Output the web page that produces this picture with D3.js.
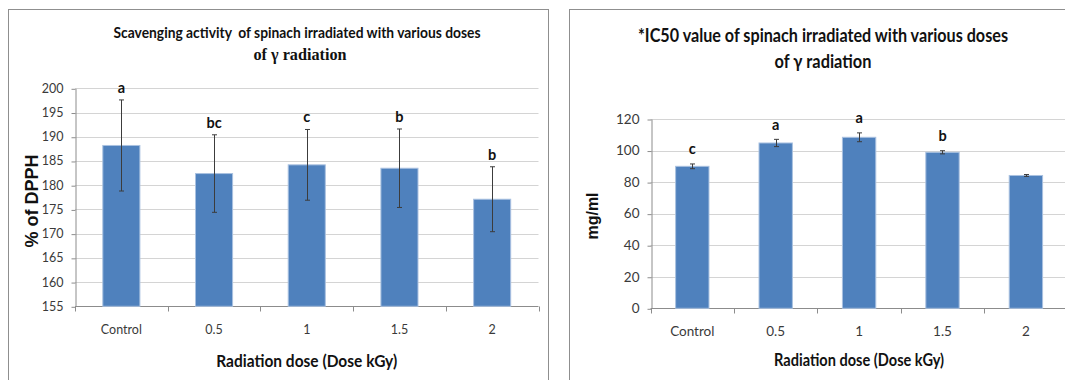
<!DOCTYPE html>
<html>
<head>
<meta charset="utf-8">
<script src="https://cdn.jsdelivr.net/npm/d3@7/dist/d3.min.js"></script>
<style>
  html, body { margin: 0; padding: 0; background: #ffffff; }
  svg { display: block; }
  text { white-space: pre; }
</style>
</head>
<body>
<svg id="chart" width="1065" height="380"></svg>
<script>
// ---------- data ----------
const categories = ["Control", "0.5", "1", "1.5", "2"];

const dpphValues  = [188.2, 182.4, 184.2, 183.5, 177.1];
const dpphErrors  = [9.4, 8.0, 7.3, 8.1, 6.7];
const dpphLetters = ["a", "bc", "c", "b", "b"];
const dpphTicks   = [155, 160, 165, 170, 175, 180, 185, 190, 195, 200];

const ic50Values  = [90.0, 104.8, 108.4, 98.9, 84.2];
const ic50Errors  = [1.5, 2.3, 2.8, 1.0, 0.6];
const ic50Letters = ["c", "a", "a", "b", ""];
const ic50Ticks   = [0, 20, 40, 60, 80, 100, 120];

const leftTitle   = ["Scavenging activity  of spinach irradiated with various doses", "of \u03b3 radiation"];
const rightTitle  = ["*IC50 value of spinach irradiated with various doses", "of \u03b3 radiation"];
const xTitle      = "Radiation dose (Dose kGy)";
const leftYTitle  = "% of DPPH";
const rightYTitle = "mg/ml";

// ---------- styles ----------
const BAR = "#4f81bd";
const BAR_EDGE = "#a9c1e0";
const GRID = "#d4d4d4";
const AXIS = "#8c8c8c";
const FONT = "Lato, 'Open Sans', sans-serif";

const svg = d3.select("#chart");

function drawChart(cfg) {
  const g = svg.append("g");

  // outer box
  g.append("rect")
    .attr("x", cfg.box[0] + 0.5).attr("y", cfg.box[1] + 0.5)
    .attr("width", cfg.box[2]).attr("height", cfg.box[3])
    .attr("fill", "#fff").attr("stroke", "#8f8f8f").attr("stroke-width", 1);

  const x = d3.scaleBand().domain(cfg.categories)
    .range(cfg.xRange).paddingInner(0.6).paddingOuter(0.3);
  const y = d3.scaleLinear().domain(cfg.yDomain).range(cfg.yRange);
  const step = x.step();

  // gridlines
  g.append("g").selectAll("line").data(cfg.ticks.slice(1)).join("line")
    .attr("x1", cfg.xRange[0]).attr("x2", cfg.xRange[1])
    .attr("y1", d => Math.round(y(d)) + 0.5).attr("y2", d => Math.round(y(d)) + 0.5)
    .attr("stroke", GRID).attr("stroke-width", 1);

  // y axis
  const yAxis = g.append("g")
    .attr("transform", `translate(${Math.round(cfg.xRange[0]) + 0.5},0)`)
    .call(d3.axisLeft(y).tickValues(cfg.ticks).tickSize(4).tickPadding(8).tickSizeOuter(0));
  yAxis.select(".domain").attr("stroke", AXIS);
  yAxis.selectAll(".tick line").attr("stroke", AXIS)
    .attr("transform", "translate(0,0.5)");
  yAxis.selectAll(".tick text")
    .attr("font-family", FONT).attr("font-size", cfg.tickFont).attr("fill", "#3a3a3a");

  // x axis baseline
  const yb = Math.round(y(cfg.yDomain[0])) + 0.5;
  g.append("line")
    .attr("x1", cfg.xRange[0]).attr("x2", cfg.xRange[1])
    .attr("y1", yb).attr("y2", yb).attr("stroke", AXIS);
  // x axis tick marks at category boundaries
  g.append("g").selectAll("line").data(d3.range(cfg.categories.length + 1)).join("line")
    .attr("x1", i => Math.round(cfg.xRange[0] + i * step) + 0.5)
    .attr("x2", i => Math.round(cfg.xRange[0] + i * step) + 0.5)
    .attr("y1", yb).attr("y2", yb + 5)
    .attr("stroke", AXIS);
  // x labels
  g.append("g").selectAll("text").data(cfg.categories).join("text")
    .attr("x", d => x(d) + x.bandwidth() / 2)
    .attr("y", cfg.xLabelY)
    .attr("text-anchor", "middle")
    .attr("font-family", FONT).attr("font-size", cfg.tickFont).attr("fill", "#3a3a3a")
    .text(d => d);

  // bars
  g.append("g").selectAll("rect").data(cfg.values).join("rect")
    .attr("x", (d, i) => x(cfg.categories[i]))
    .attr("width", x.bandwidth())
    .attr("y", d => y(d))
    .attr("height", d => y(cfg.yDomain[0]) - y(d))
    .attr("fill", BAR).attr("stroke", BAR_EDGE).attr("stroke-width", 1);

  // error bars
  const eb = g.append("g").attr("stroke", "#3c3c3c").attr("stroke-width", 1);
  cfg.values.forEach((v, i) => {
    const cx = Math.round(x(cfg.categories[i]) + x.bandwidth() / 2) + 0.5;
    const hi = y(v + cfg.errors[i]), lo = y(v - cfg.errors[i]);
    eb.append("line").attr("x1", cx).attr("x2", cx).attr("y1", hi).attr("y2", lo);
    eb.append("line").attr("x1", cx - cfg.cap).attr("x2", cx + cfg.cap).attr("y1", hi).attr("y2", hi);
    eb.append("line").attr("x1", cx - cfg.cap).attr("x2", cx + cfg.cap).attr("y1", lo).attr("y2", lo);
  });

  // significance letters
  g.append("g").selectAll("text").data(cfg.letters).join("text")
    .attr("x", (d, i) => x(cfg.categories[i]) + x.bandwidth() / 2)
    .attr("y", (d, i) => y(cfg.values[i] + cfg.errors[i]) - cfg.letterGap)
    .attr("text-anchor", "middle")
    .attr("font-family", FONT).attr("font-weight", "bold")
    .attr("font-size", cfg.letterFont).attr("fill", "#111")
    .text(d => d);

  // titles
  cfg.titleLines.forEach((t, i) => {
    const L = cfg.titleLayout[i];
    g.append("text")
      .attr("x", L.cx).attr("y", L.y)
      .attr("text-anchor", "middle")
      .attr("font-family", L.family || FONT).attr("font-weight", "bold")
      .attr("font-size", L.size).attr("fill", "#111")
      .attr("textLength", L.w).attr("lengthAdjust", "spacingAndGlyphs")
      .text(t);
  });

  // x title
  g.append("text")
    .attr("x", (cfg.xRange[0] + cfg.xRange[1]) / 2).attr("y", cfg.xTitleY)
    .attr("text-anchor", "middle")
    .attr("font-family", FONT).attr("font-weight", "bold")
    .attr("font-size", cfg.xTitleSize).attr("fill", "#111")
    .attr("textLength", cfg.xTitleW).attr("lengthAdjust", "spacingAndGlyphs")
    .text(xTitle);

  // y title
  g.append("text")
    .attr("transform", `translate(${cfg.yTitle.x},${cfg.yTitle.cy}) rotate(-90)`)
    .attr("text-anchor", "middle")
    .attr("font-family", "'Liberation Sans', Arial, sans-serif").attr("font-weight", "bold")
    .attr("font-size", cfg.yTitle.size).attr("fill", "#111")
    .text(cfg.yTitle.text);
}

drawChart({
  box: [8, 9, 540, 380],
  categories: categories,
  values: dpphValues, errors: dpphErrors, letters: dpphLetters, ticks: dpphTicks,
  yDomain: [155, 200], yRange: [306.3, 88.3], xRange: [75, 538.5],
  tickFont: 12.5, cap: 2.5, letterGap: 7, letterFont: 14.5,
  xLabelY: 334, xTitleY: 367, xTitleSize: 17.5, xTitleW: 181,
  titleLines: leftTitle,
  titleLayout: [
    { cx: 297, y: 38, size: 15.5, w: 367 },
    { cx: 300, y: 60, size: 16, w: 93, family: "'Liberation Serif', 'DejaVu Serif', serif" }
  ],
  yTitle: { text: leftYTitle, x: 38, cy: 201, size: 18 }
});

drawChart({
  box: [569, 9, 520, 380],
  categories: categories,
  values: ic50Values, errors: ic50Errors, letters: ic50Letters, ticks: ic50Ticks,
  yDomain: [0, 120], yRange: [308.3, 119], xRange: [650.6, 1067.6],
  tickFont: 13.5, cap: 2.5, letterGap: 9.5, letterFont: 14.5,
  xLabelY: 336, xTitleY: 366, xTitleSize: 16.5, xTitleW: 170,
  titleLines: rightTitle,
  titleLayout: [
    { cx: 823, y: 42, size: 18, w: 370 },
    { cx: 823, y: 68, size: 18, w: 97 }
  ],
  yTitle: { text: rightYTitle, x: 598, cy: 216, size: 16 }
});
</script>
</body>
</html>
